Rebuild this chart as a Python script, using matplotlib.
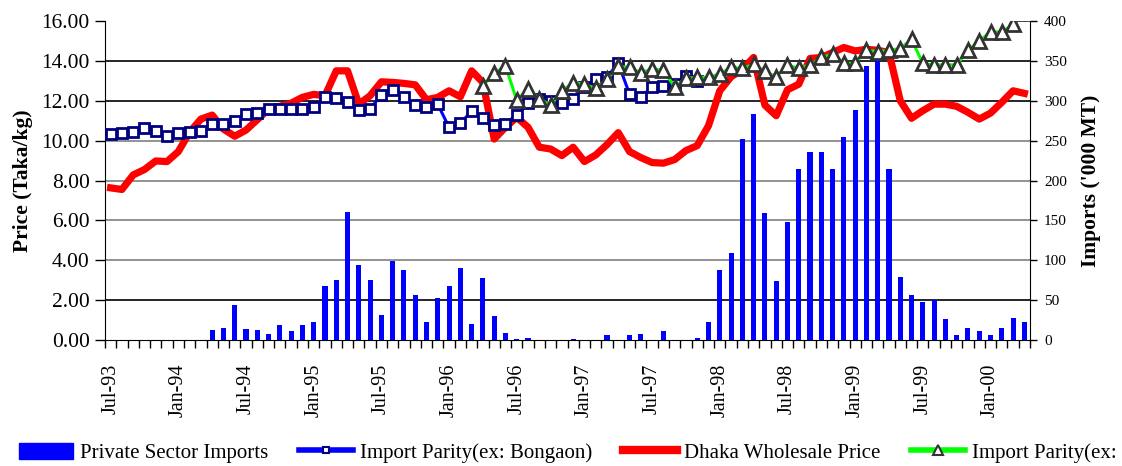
import matplotlib.pyplot as plt
import numpy as np
from matplotlib.patches import Patch
from matplotlib.lines import Line2D

plt.rcParams['font.family'] = ['Liberation Serif', 'DejaVu Serif']

# monthly, Jul-93 .. Apr-00 (82 months)
tick_labels = ['Jul-93', 'Jan-94', 'Jul-94', 'Jan-95', 'Jul-95', 'Jan-96', 'Jul-96',
               'Jan-97', 'Jul-97', 'Jan-98', 'Jul-98', 'Jan-99', 'Jul-99', 'Jan-00']

# private sector imports ('000 MT)
imports = [0, 0, 0, 0, 0, 0, 0, 0, 0, 12.5,
           15, 44, 14, 12.5, 7.5, 19, 11, 19, 22.5, 67.5,
           75, 160, 94, 75, 31, 99, 88, 56, 22.5, 52.5,
           67.5, 90, 20, 77.5, 30, 9, 1.5, 2.5, 0.3, 0,
           0, 1.5, 0, 0, 6.5, 0, 6.5, 7.5, 0, 11,
           0, 0, 2.5, 22.5, 87.5, 109, 252.5, 283, 159, 74,
           148, 214, 236, 236, 214, 254, 288, 344, 355, 214,
           79, 56, 47.5, 50, 26, 6.5, 15, 11, 6.5, 15,
           27.5, 22.5]

# Dhaka wholesale price (Taka/kg)
dhaka = [7.63, 7.55, 8.28, 8.55, 8.98, 8.95, 9.45, 10.42, 11.08, 11.28,
         10.58, 10.22, 10.53, 11.05, 11.58, 11.72, 11.88, 12.17, 12.32, 12.25,
         13.5, 13.5, 11.83, 12.25, 12.95, 12.92, 12.87, 12.8, 12.05, 12.17,
         12.5, 12.2, 13.5, 12.92, 10.08, 10.67, 11.17, 10.67, 9.67, 9.58,
         9.25, 9.67, 8.95, 9.28, 9.8, 10.4, 9.45, 9.15, 8.9, 8.87,
         9.05, 9.5, 9.75, 10.75, 12.5, 13.2, 13.58, 14.17, 11.78, 11.25,
         12.55, 12.83, 14.12, 14.17, 14.42, 14.67, 14.5, 14.58, 14.53, 14.42,
         12.0, 11.12, 11.5, 11.83, 11.83, 11.72, 11.42, 11.08, 11.38, 11.92,
         12.5, 12.37]

# import parity ex Bongaon (Jul-93 .. Nov-97)
bongaon = [10.33, 10.4, 10.42, 10.62, 10.47, 10.22, 10.4, 10.42, 10.47, 10.83,
           10.83, 10.97, 11.32, 11.38, 11.57, 11.57, 11.57, 11.57, 11.7, 12.17,
           12.12, 11.93, 11.55, 11.6, 12.28, 12.56, 12.17, 11.79, 11.71, 11.82,
           10.67, 10.87, 11.48, 11.12, 10.8, 10.84, 11.3, 11.87, 12.1, 12.01,
           11.9, 12.1, 12.69, 13.09, 13.2, 13.87, 12.34, 12.19, 12.68, 12.76,
           12.83, 13.25, 12.97] + [np.nan] * 29

# second import parity series (Apr-96 .. Apr-00)
parity2 = [np.nan] * 33 + [
    12.75, 13.38, 13.75, 12.03, 12.58, 12.1, 11.79, 12.49, 12.91, 12.83,
    12.62, 13.08, 13.72, 13.67, 13.4, 13.6, 13.52, 12.7, 13.12, 13.18,
    13.17, 13.35, 13.67, 13.63, 13.83, 13.47, 13.2, 13.78, 13.63, 13.8,
    14.17, 14.33, 13.88, 13.88, 14.53, 14.47, 14.53, 14.62, 15.08, 13.87,
    13.8, 13.8, 13.8, 14.53, 15.0, 15.45, 15.45, 15.83, 16.4]

grid_levels = [50, 100, 150, 200, 250, 300, 350]
grid_colors = ['black', '#808080', '#808080', '#808080', '#808080', 'black', 'black']

n = len(dhaka)
x = np.arange(n)

fig = plt.figure(figsize=(11.22, 4.66), dpi=100)
ax = fig.add_axes([105/1122, 1-340/466, 925/1122, 319/466])
ax2 = ax.twinx()
ax.set_zorder(ax2.get_zorder() + 1)
ax.patch.set_visible(False)

for lev, c in zip(grid_levels, grid_colors):
    ax2.axhline(lev, color=c, lw=1.2, zorder=0)
ax2.bar(x, imports, width=0.45, color='#0000FF', zorder=2)

ax.plot(x, dhaka, color='#FF0000', lw=5.2, zorder=2)
ax.plot(x, bongaon, color='#0000FF', lw=2.2, marker='s', ms=7.5,
        mfc='white', mec='#000080', mew=2, zorder=3)
ax.plot(x, parity2, color='#00FF00', lw=2.2, marker='^', ms=10,
        mfc='white', mec='#333333', mew=2, zorder=4)

ax.set_xlim(-0.5, n - 0.5)
ax.set_ylim(0, 16)
ax2.set_ylim(0, 400)

ax.set_yticks(np.arange(0, 17, 2))
ax.set_yticklabels(['%.2f' % v for v in np.arange(0, 17, 2)], fontsize=15.5)
ax2.set_yticks(np.arange(0, 401, 50))
ax2.set_yticklabels([str(v) for v in range(0, 401, 50)], fontsize=11)
ax.tick_params(axis='y', direction='out', length=7, width=1, pad=4)
ax2.tick_params(axis='y', direction='out', length=5, width=1, pad=5)

ax.set_xticks(np.arange(-0.5, n, 1))
ax.set_xticklabels([])
ax.tick_params(axis='x', which='major', direction='out', length=6, width=1)
ax.set_xticks(np.arange(0, n, 6), minor=True)
ax.set_xticklabels(tick_labels, minor=True, rotation=90, fontsize=14.5)
ax.tick_params(axis='x', which='minor', length=0, pad=17)

for s in ['top', 'right']:
    ax.spines[s].set_visible(False)
for s in ['top', 'left', 'bottom']:
    ax2.spines[s].set_visible(False)

ax.set_ylabel('Price (Taka/kg)', fontsize=15.5, fontweight='bold', labelpad=6)
ax2.set_ylabel("Imports ('000 MT)", fontsize=15.5, fontweight='bold', labelpad=10)

handles = [
    Patch(color='#0000FF'),
    Line2D([], [], color='#0000FF', lw=4, marker='s', ms=5, mfc='white', mec='#000080', mew=1.5),
    Line2D([], [], color='#FF0000', lw=6),
    Line2D([], [], color='#00FF00', lw=4, marker='^', ms=7, mfc='white', mec='#333333', mew=1.5),
]
labels = ['Private Sector Imports', 'Import Parity(ex: Bongaon)',
          'Dhaka Wholesale Price', 'Import Parity(ex:']
fig.legend(handles, labels, loc='center left', bbox_to_anchor=(0.0098, 0.028),
           ncol=4, frameon=False, fontsize=15, handlelength=2.6, handleheight=0.85,
           handletextpad=0.3, columnspacing=1.5, borderaxespad=0)

plt.savefig('out.png', dpi=100)
